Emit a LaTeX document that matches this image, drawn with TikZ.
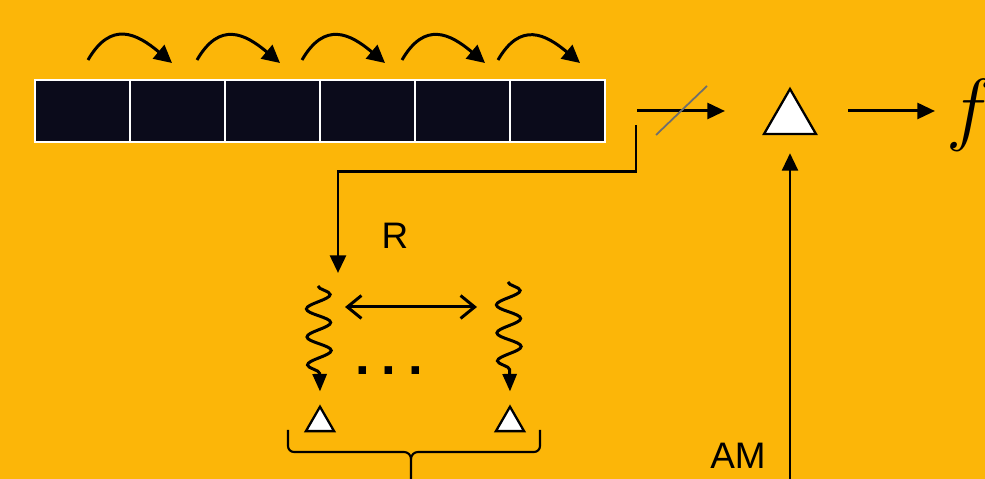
\documentclass[tikz,border=0pt]{standalone}
\usepackage{fontspec}
\setmainfont{Liberation Sans}
\usepackage{graphicx}
\usepackage{tikz}
\usetikzlibrary{
  arrows.meta, positioning, shapes.geometric,
  calc, decorations.pathmorphing
}
\definecolor{bgGold}{RGB}{252,182,8}
\definecolor{cellDark}{RGB}{11,11,27}
\definecolor{slashGray}{RGB}{110,110,110}

\begin{document}
\begin{tikzpicture}[x=0.02cm,y=0.02cm,
  cell/.style={draw=white,fill=cellDark,line width=1pt,minimum width=1.9cm,minimum height=1.24cm,inner sep=0},
  tri/.style={draw=black,fill=white,line width=1.3pt,regular polygon,regular polygon sides=3,inner sep=0},
  conn/.style={line width=1.7pt,-{Triangle[length=10pt,width=9pt]}},
  hop/.style={line width=1.7pt,-{Triangle[length=10pt,width=10pt]}},
  wave/.style={line width=1.7pt,decorate,decoration={snake,amplitude=0.24cm,segment length=0.56cm,post length=10pt},
               -{Triangle[length=10pt,width=8pt]}},
  lbl/.style={font=\fontsize{21}{24}\selectfont}]
  \useasboundingbox (0,0) rectangle (985,479);
  \fill[bgGold] (0,0) rectangle (985,479);
  \clip (0,0) rectangle (985,479);
  \foreach \i in {1,...,6} {
    \node[cell] (c\i) at ({35+95*(\i-0.5)},368) {};
  }
  \foreach \a/\b in {88/172, 197/280, 302/385, 402/485, 498/580} {
    \draw[hop] (\a,419) to[out=60,in=140,looseness=1.4] (\b,416);
  }
  \node[tri,minimum size=1.2cm] (amp) at (790,360) {};
  \node[font=\Huge] (out) at (970,364) {\scalebox{1.85}{$f$}};
  \coordinate (in) at (637,368);
  \coordinate (inEnd) at (725,368);
  \draw[conn] (in) -- (inEnd);
  \draw[slashGray,line width=1pt] (656,344) -- (707,393);
  \coordinate (ampOut) at (848,368);
  \coordinate (fIn) at (935,368);
  \draw[conn] (ampOut) -- (fIn);
  \coordinate (amBot) at (790,0);
  \draw[conn] (amBot) -- ([yshift=-0.36cm]amp.south);
  \node[lbl] (AM) at (738,23) {AM};
  \coordinate (tap) at (636,354);
  \coordinate (split) at (338,206);
  \draw[conn] (tap) |- (338,307) -- (split);
  \node[lbl] (R) at (395,243) {R};
  \node[tri,minimum size=0.65cm] (t1) at (320,56) {};
  \node[tri,minimum size=0.65cm] (t2) at (510,56) {};
  \coordinate (w1) at (318,193);
  \coordinate (w2) at (508,197);
  \draw[wave] (w1) -- ([yshift=0.26cm]t1.north);
  \draw[wave] (w2) -- ([yshift=0.26cm]t2.north);
  \draw[line width=1.7pt,{Straight Barb[length=8pt,width=13pt]}-{Straight Barb[length=8pt,width=13pt]}]
    (345,172) -- (477,172);
  \node[font=\fontsize{30}{32}\selectfont\bfseries,anchor=base] (dots) at (389,104) {.\hspace{0.24cm}.\hspace{0.24cm}.};
  \draw[line width=1.2pt] (288,49) -- (288,33) to[out=-90,in=180] (294,27) -- (404,27)
    to[out=0,in=90] (411,20) -- (411,-5);
  \draw[line width=1.2pt] (540,49) -- (540,33) to[out=-90,in=0] (534,27) -- (418,27)
    to[out=180,in=90] (411,20);
\end{tikzpicture}
\end{document}
